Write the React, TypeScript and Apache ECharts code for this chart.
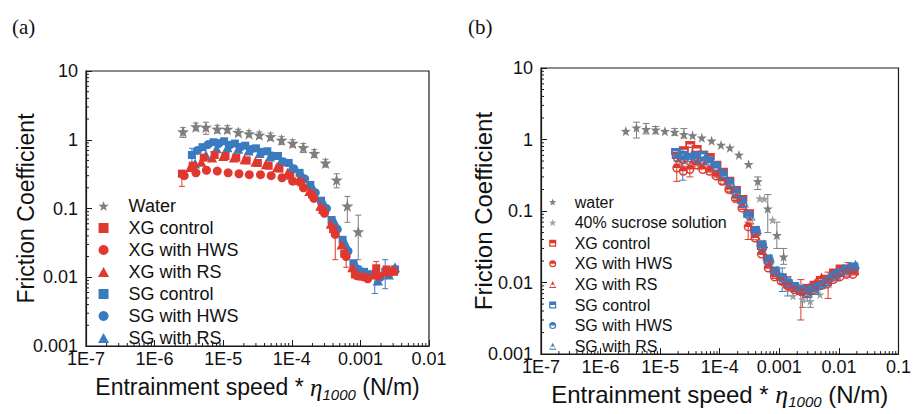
import React, { useEffect, useRef } from 'react';
import * as echarts from 'echarts';

const RED = '#e0382f';
const BLUE = '#3a7bc0';
const GRAY = '#7e7e7e';
const LGRAY = '#a0a0a0';
const FONT = "'Liberation Sans', Arial, sans-serif";
const SERIF = "'Liberation Serif', 'DejaVu Serif', serif";
const AXIS_COLOR = '#1a1a1a';

const STAR = 'path://M0,-10L2.35,-3.24L9.51,-3.09L3.8,1.24L5.88,8.09L0,4L-5.88,8.09L-3.8,1.24L-9.51,-3.09L-2.35,-3.24Z';
const SQUARE = 'path://M-1,-1L1,-1L1,1L-1,1Z';
const TRI = 'path://M0,-1L1,0.8L-1,0.8Z';
const HALF_SQ = 'path://M-1,-1L1,-1L1,1L-1,1ZM-0.65,0L-0.65,0.65L0.65,0.65L0.65,0Z';
const HALF_CI = 'path://M-1,0A1,1,0,0,1,1,0A1,1,0,0,1,-1,0ZM-0.68,0A0.68,0.68,0,0,0,0.68,0Z';
const HALF_TR = 'path://M0,-1L1,1L-1,1ZM-0.42,0.12L-0.7,0.74L0.7,0.74L0.42,0.12Z';

// ---------- Panel (a) ----------
const legendA = ['Water', 'XG control', 'XG with HWS', 'XG with RS', 'SG control', 'SG with HWS', 'SG with RS'];

const waterA: [number, number][] = [
  [2.6e-6, 1.31], [4.0e-6, 1.55], [5.6e-6, 1.52], [8.2e-6, 1.43], [1.15e-5, 1.42],
  [1.66e-5, 1.28], [2.38e-5, 1.22], [3.36e-5, 1.17], [4.9e-5, 1.11], [7.1e-5, 0.99],
  [1.03e-4, 0.89], [1.47e-4, 0.77], [2.13e-4, 0.635], [3.1e-4, 0.46], [4.5e-4, 0.26],
  [6.45e-4, 0.109], [9.3e-4, 0.046],
];
const xgControlA: [number, number][] = [
  [2.5e-6, 0.32], [3.6e-6, 0.42], [5.2e-6, 0.55], [7.5e-6, 0.6], [1.08e-5, 0.58],
  [1.55e-5, 0.55], [2.2e-5, 0.5], [3.2e-5, 0.46], [4.6e-5, 0.42], [6.6e-5, 0.38],
  [9.5e-5, 0.3], [1.37e-4, 0.24], [1.97e-4, 0.16], [2.8e-4, 0.095], [4.0e-4, 0.05],
  [5.8e-4, 0.022], [8.3e-4, 0.011], [1.2e-3, 0.01], [1.7e-3, 0.0135], [2.4e-3, 0.013], [3.1e-3, 0.012],
];
const xgHwsA: [number, number][] = [
  [2.7e-6, 0.3], [4.0e-6, 0.33], [5.7e-6, 0.36], [8.2e-6, 0.35], [1.18e-5, 0.33],
  [1.7e-5, 0.32], [2.4e-5, 0.31], [3.5e-5, 0.31], [5.0e-5, 0.3], [7.2e-5, 0.28],
  [1.03e-4, 0.25], [1.48e-4, 0.2], [2.1e-4, 0.14], [3.0e-4, 0.085], [4.3e-4, 0.042],
  [6.2e-4, 0.02], [8.9e-4, 0.0105], [1.28e-3, 0.0095], [1.84e-3, 0.0105], [2.6e-3, 0.012],
];
const xgRsA: [number, number][] = [
  [3.3e-6, 0.4], [4.8e-6, 0.48], [6.9e-6, 0.55], [1.0e-5, 0.58], [1.43e-5, 0.55],
  [2.05e-5, 0.52], [2.95e-5, 0.48], [4.2e-5, 0.44], [6.1e-5, 0.4], [8.7e-5, 0.33],
  [1.25e-4, 0.26], [1.8e-4, 0.18], [2.6e-4, 0.11], [3.7e-4, 0.06], [5.3e-4, 0.03],
  [7.6e-4, 0.014], [1.1e-3, 0.0105], [1.57e-3, 0.011], [2.25e-3, 0.012], [3.0e-3, 0.013],
];
const sgControlA: [number, number][] = [
  [3.5e-6, 0.6], [5.0e-6, 0.78], [7.2e-6, 0.92], [1.03e-5, 0.95], [1.48e-5, 0.88],
  [2.1e-5, 0.82], [3.0e-5, 0.75], [4.4e-5, 0.68], [6.3e-5, 0.58], [9.0e-5, 0.46],
  [1.3e-4, 0.33], [1.86e-4, 0.22], [2.67e-4, 0.13], [3.8e-4, 0.068], [5.5e-4, 0.035],
  [7.9e-4, 0.016], [1.13e-3, 0.012], [1.62e-3, 0.011], [2.3e-3, 0.012], [3.2e-3, 0.013],
];
const sgHwsA: [number, number][] = [
  [4.2e-6, 0.7], [6.0e-6, 0.85], [8.6e-6, 0.88], [1.23e-5, 0.83], [1.77e-5, 0.78],
  [2.5e-5, 0.72], [3.6e-5, 0.66], [5.2e-5, 0.58], [7.5e-5, 0.48], [1.07e-4, 0.38],
  [1.54e-4, 0.27], [2.2e-4, 0.17], [3.2e-4, 0.1], [4.6e-4, 0.05], [6.6e-4, 0.024],
  [9.4e-4, 0.013], [1.35e-3, 0.011], [1.94e-3, 0.01], [2.8e-3, 0.012],
];
const sgRsA: [number, number][] = [
  [3.9e-6, 0.45], [5.6e-6, 0.6], [8.0e-6, 0.75], [1.15e-5, 0.78], [1.65e-5, 0.74],
  [2.35e-5, 0.7], [3.4e-5, 0.64], [4.8e-5, 0.57], [7.0e-5, 0.5], [1.0e-4, 0.4],
  [1.43e-4, 0.3], [2.05e-4, 0.2], [2.95e-4, 0.12], [4.2e-4, 0.065], [6.0e-4, 0.032],
  [8.7e-4, 0.015], [1.25e-3, 0.011], [1.8e-3, 0.009], [2.6e-3, 0.011], [3.2e-3, 0.014],
];
// error bars [x, low, high]
const waterAErr: [number, number, number][] = [
  [2.6e-6, 1.08, 1.5], [4.0e-6, 1.35, 1.75], [5.6e-6, 1.2, 1.8], [8.2e-6, 1.25, 1.62],
  [1.15e-5, 1.25, 1.6], [1.66e-5, 1.15, 1.42], [2.38e-5, 1.1, 1.35], [3.36e-5, 1.05, 1.3],
  [4.9e-5, 0.98, 1.25], [7.1e-5, 0.85, 1.12], [1.03e-4, 0.78, 1.0], [1.47e-4, 0.65, 0.88],
  [2.13e-4, 0.55, 0.72], [3.1e-4, 0.4, 0.52], [4.5e-4, 0.2, 0.32], [6.45e-4, 0.063, 0.15],
  [9.3e-4, 0.018, 0.08],
];
const redAErr: [number, number, number][] = [
  [2.5e-6, 0.21, 0.36], [4.3e-4, 0.018, 0.05], [6.2e-4, 0.014, 0.027], [1.7e-3, 0.0078, 0.017],
];
const blueAErr: [number, number, number][] = [
  [3.5e-6, 0.45, 0.75], [1.62e-3, 0.0058, 0.013], [2.3e-3, 0.0068, 0.018],
];

// ---------- Panel (b) ----------
const legendB = ['water', '40% sucrose solution', 'XG control', 'XG with HWS', 'XG with RS', 'SG control', 'SG with HWS', 'SG with RS'];

const waterB: [number, number][] = [
  [2.65e-6, 1.31], [4.0e-6, 1.46], [5.8e-6, 1.39], [8.4e-6, 1.37], [1.2e-5, 1.31],
  [1.75e-5, 1.27], [2.5e-5, 1.18], [3.5e-5, 1.14], [5.0e-5, 1.06], [7.3e-5, 0.96],
  [1.05e-4, 0.84], [1.48e-4, 0.77], [2.1e-4, 0.61], [3.05e-4, 0.45], [4.35e-4, 0.26],
  [6.4e-4, 0.108], [9.1e-4, 0.046], [1.18e-3, 0.023],
];
const sucroseB: [number, number][] = [
  [2.2e-5, 0.5], [3.2e-5, 0.45], [4.6e-5, 0.42], [6.6e-5, 0.38], [9.5e-5, 0.3],
  [1.37e-4, 0.22], [1.97e-4, 0.15], [2.8e-4, 0.09], [4.7e-4, 0.15], [5.6e-4, 0.148],
  [7.7e-4, 0.075], [8.3e-4, 0.013], [1.2e-3, 0.009], [1.7e-3, 0.0065], [2.45e-3, 0.0058],
  [3.3e-3, 0.0055], [4.8e-3, 0.0068], [6.9e-3, 0.0095], [1.0e-2, 0.012], [1.45e-2, 0.014],
];
const xgControlB: [number, number][] = [
  [1.9e-5, 0.6], [2.5e-5, 0.72], [3.2e-5, 0.85], [4.1e-5, 0.75], [5.3e-5, 0.62],
  [6.8e-5, 0.58], [8.8e-5, 0.45], [1.13e-4, 0.36], [1.45e-4, 0.27], [1.87e-4, 0.2],
  [2.4e-4, 0.15], [3.1e-4, 0.095], [4.0e-4, 0.05], [5.1e-4, 0.032], [6.6e-4, 0.02],
  [8.5e-4, 0.014], [1.1e-3, 0.012], [1.4e-3, 0.0095], [1.8e-3, 0.0085], [2.3e-3, 0.008],
  [3.0e-3, 0.0085], [3.9e-3, 0.0095], [5.0e-3, 0.011], [6.4e-3, 0.0115], [8.3e-3, 0.014],
  [1.07e-2, 0.016], [1.37e-2, 0.015], [1.77e-2, 0.014],
];
const xgHwsB: [number, number][] = [
  [1.9e-5, 0.4], [2.45e-5, 0.36], [3.15e-5, 0.38], [4.05e-5, 0.44], [5.2e-5, 0.38],
  [6.7e-5, 0.36], [8.6e-5, 0.31], [1.1e-4, 0.26], [1.42e-4, 0.2], [1.83e-4, 0.15],
  [2.35e-4, 0.11], [3.0e-4, 0.06], [3.9e-4, 0.042], [5.0e-4, 0.025], [6.5e-4, 0.016],
  [8.3e-4, 0.012], [1.07e-3, 0.0105], [1.38e-3, 0.009], [1.77e-3, 0.008], [2.28e-3, 0.0075],
  [2.9e-3, 0.0072], [3.8e-3, 0.008], [4.9e-3, 0.009], [6.3e-3, 0.0095], [8.1e-3, 0.011],
  [1.04e-2, 0.012], [1.34e-2, 0.013], [1.72e-2, 0.013],
];
const xgRsB: [number, number][] = [
  [2.0e-5, 0.5], [2.6e-5, 0.48], [3.35e-5, 0.47], [4.3e-5, 0.5], [5.5e-5, 0.45],
  [7.1e-5, 0.4], [9.1e-5, 0.34], [1.17e-4, 0.27], [1.5e-4, 0.21], [1.95e-4, 0.16],
  [2.5e-4, 0.12], [3.2e-4, 0.075], [4.1e-4, 0.045], [5.3e-4, 0.028], [6.8e-4, 0.018],
  [8.8e-4, 0.013], [1.13e-3, 0.011], [1.45e-3, 0.0095], [1.87e-3, 0.0085], [2.4e-3, 0.008],
  [3.1e-3, 0.0085], [4.0e-3, 0.01], [5.1e-3, 0.012], [6.6e-3, 0.011], [8.5e-3, 0.012],
  [1.1e-2, 0.014], [1.42e-2, 0.016], [1.83e-2, 0.015],
];
const sgControlB: [number, number][] = [
  [1.85e-5, 0.68], [2.4e-5, 0.62], [3.1e-5, 0.58], [4.0e-5, 0.6], [5.1e-5, 0.62],
  [6.6e-5, 0.52], [8.5e-5, 0.44], [1.1e-4, 0.34], [1.41e-4, 0.26], [1.82e-4, 0.19],
  [2.35e-4, 0.14], [3.0e-4, 0.09], [3.9e-4, 0.055], [5.0e-4, 0.035], [6.4e-4, 0.022],
  [8.3e-4, 0.015], [1.07e-3, 0.012], [1.38e-3, 0.01], [1.78e-3, 0.009], [2.3e-3, 0.0075],
  [2.95e-3, 0.0068], [3.8e-3, 0.0075], [4.9e-3, 0.009], [6.3e-3, 0.01], [8.2e-3, 0.012],
  [1.05e-2, 0.014], [1.36e-2, 0.016], [1.75e-2, 0.017],
];
const sgHwsB: [number, number][] = [
  [1.95e-5, 0.55], [2.5e-5, 0.52], [3.25e-5, 0.55], [4.2e-5, 0.53], [5.4e-5, 0.5],
  [6.9e-5, 0.47], [8.9e-5, 0.4], [1.15e-4, 0.31], [1.48e-4, 0.24], [1.9e-4, 0.18],
  [2.45e-4, 0.125], [3.15e-4, 0.085], [4.05e-4, 0.05], [5.2e-4, 0.03], [6.7e-4, 0.019],
  [8.7e-4, 0.014], [1.12e-3, 0.0115], [1.44e-3, 0.0095], [1.85e-3, 0.0088], [2.4e-3, 0.008],
  [3.1e-3, 0.0078], [4.0e-3, 0.0085], [5.1e-3, 0.0095], [6.6e-3, 0.011], [8.5e-3, 0.013],
  [1.1e-2, 0.014], [1.42e-2, 0.015], [1.83e-2, 0.016],
];
const sgRsB: [number, number][] = [
  [2.05e-5, 0.62], [2.65e-5, 0.6], [3.4e-5, 0.62], [4.4e-5, 0.58], [5.65e-5, 0.55],
  [7.3e-5, 0.5], [9.4e-5, 0.42], [1.21e-4, 0.33], [1.56e-4, 0.25], [2.0e-4, 0.18],
  [2.6e-4, 0.13], [3.35e-4, 0.085], [4.3e-4, 0.055], [5.5e-4, 0.035], [7.1e-4, 0.022],
  [9.2e-4, 0.015], [1.18e-3, 0.012], [1.52e-3, 0.0105], [1.96e-3, 0.009], [2.5e-3, 0.0085],
  [3.25e-3, 0.0085], [4.2e-3, 0.009], [5.4e-3, 0.01], [7.0e-3, 0.012], [9.0e-3, 0.013],
  [1.16e-2, 0.015], [1.5e-2, 0.017], [1.9e-2, 0.018],
];
const grayBErr: [number, number, number][] = [
  [4.0e-6, 1.05, 1.75], [5.8e-6, 1.2, 1.68], [8.4e-6, 1.2, 1.52], [1.75e-5, 1.15, 1.42],
  [2.5e-5, 1.05, 1.42], [4.35e-4, 0.2, 0.3], [6.4e-4, 0.05, 0.17], [9.1e-4, 0.03, 0.07],
  [1.18e-3, 0.018, 0.03], [2.45e-3, 0.0045, 0.007], [3.3e-3, 0.0045, 0.0068],
];
const redBErr: [number, number, number][] = [
  [1.9e-5, 0.26, 0.5], [3.15e-5, 0.3, 0.45], [3.0e-4, 0.04, 0.07], [1.4e-3, 0.0076, 0.012],
  [2.3e-3, 0.003, 0.011], [6.6e-3, 0.006, 0.014], [1.42e-2, 0.012, 0.019],
];
const blueBErr: [number, number, number][] = [
  [2.4e-5, 0.27, 0.75], [1.12e-3, 0.0075, 0.016], [1.38e-3, 0.0065, 0.012], [2.95e-3, 0.0055, 0.0085],
];

// ---------- helpers ----------
const minorValues = (eLo: number, eHi: number) => {
  const out: number[] = [];
  for (let e = eLo; e < eHi; e++) for (let m = 2; m <= 9; m++) out.push(m * Math.pow(10, e));
  return out;
};

const xLabel = (v: number) => {
  const e = Math.round(Math.log10(v));
  return e <= -4 ? '1E' + e : Math.pow(10, e).toFixed(-e);
};
const yLabel = (v: number) => {
  const e = Math.round(Math.log10(v));
  return e >= 0 ? String(Math.round(Math.pow(10, e))) : Math.pow(10, e).toFixed(-e);
};

function errSeries(data: [number, number, number][], color: string, idx: number, cap: number) {
  return {
    type: 'custom',
    xAxisIndex: idx,
    yAxisIndex: idx,
    silent: true,
    z: 1,
    encode: { x: 0, y: [1, 2] },
    data,
    renderItem: (_p: any, api: any) => {
      const x = api.value(0);
      const a = api.coord([x, api.value(1)]);
      const b = api.coord([x, api.value(2)]);
      const h = cap / 2;
      const st = { stroke: color, lineWidth: 1 };
      return {
        type: 'group',
        children: [
          { type: 'line', shape: { x1: a[0], y1: a[1], x2: b[0], y2: b[1] }, style: st },
          { type: 'line', shape: { x1: a[0] - h, y1: a[1], x2: a[0] + h, y2: a[1] }, style: st },
          { type: 'line', shape: { x1: b[0] - h, y1: b[1], x2: b[0] + h, y2: b[1] }, style: st },
        ],
      };
    },
  };
}

function minorTickSeries(vals: number[], idx: number, dir: 'x' | 'y', anchor: number) {
  return {
    type: 'custom',
    xAxisIndex: idx,
    yAxisIndex: idx,
    silent: true,
    z: 10,
    data: vals.map((v) => (dir === 'x' ? [v, anchor] : [anchor, v])),
    renderItem: (_p: any, api: any) => {
      const p = api.coord([api.value(0), api.value(1)]);
      const shape = dir === 'x'
        ? { x1: p[0], y1: p[1], x2: p[0], y2: p[1] - 3 }
        : { x1: p[0], y1: p[1], x2: p[0] + 3, y2: p[1] };
      return { type: 'line', shape, style: { stroke: AXIS_COLOR, lineWidth: 1 } };
    },
  };
}

function scatter(name: string, data: [number, number][], idx: number, symbol: string, size: any, color: string, z = 3) {
  return {
    type: 'scatter',
    name,
    data,
    xAxisIndex: idx,
    yAxisIndex: idx,
    symbol,
    symbolSize: size,
    itemStyle: { color, opacity: 1 },
    z,
  };
}

const xAxisName = '{t|Entrainment speed * }{eta|η}{sub|1000}{t| (N/m)}';
const axisNameRich = (fs: number) => ({
  t: { fontSize: fs, fontFamily: FONT, color: '#111', lineHeight: 30 },
  eta: { fontSize: fs + 2, fontFamily: SERIF, fontStyle: 'italic', color: '#111', lineHeight: 30 },
  sub: { fontSize: 15, fontFamily: FONT, fontStyle: 'italic', color: '#111', verticalAlign: 'bottom', lineHeight: 17 },
});

function makeXAxis(idx: number, max: number, gap: number, fs: number) {
  return {
    type: 'log',
    logBase: 10,
    gridIndex: idx,
    min: 1e-7,
    max,
    splitNumber: 6,
    axisLine: { show: true, lineStyle: { color: AXIS_COLOR, width: 1.2 } },
    axisTick: { show: true, inside: true, length: 6, lineStyle: { color: AXIS_COLOR, width: 1 } },
    splitLine: { show: false },
    axisLabel: { formatter: xLabel, fontSize: 18, fontFamily: FONT, color: '#111', margin: 4 },
    name: xAxisName,
    nameLocation: 'middle',
    nameGap: gap,
    nameTextStyle: { rich: axisNameRich(fs) },
  };
}

function makeYAxis(idx: number, gap: number, fs: number) {
  return {
    type: 'log',
    logBase: 10,
    gridIndex: idx,
    min: 1e-3,
    max: 10,
    splitNumber: 4,
    axisLine: { show: true, lineStyle: { color: AXIS_COLOR, width: 1.2 } },
    axisTick: { show: true, inside: true, length: 6, lineStyle: { color: AXIS_COLOR, width: 1 } },
    splitLine: { show: false },
    axisLabel: { formatter: yLabel, fontSize: 18, fontFamily: FONT, color: '#111', margin: 8 },
    name: 'Friction Coefficient',
    nameLocation: 'middle',
    nameGap: gap,
    nameMoveOverlap: false,
    nameTextStyle: { fontSize: fs, fontFamily: FONT, color: '#111' },
  };
}

export default function App() {
  const ref = useRef<HTMLDivElement>(null);
  useEffect(() => {
    if (!ref.current) return;
    const chart = echarts.init(ref.current, undefined, { renderer: 'svg' });
    const option: any = {
      animation: false,
      backgroundColor: '#ffffff',
      grid: [
        { left: 86, top: 71, width: 343, height: 275, show: true, borderColor: AXIS_COLOR, borderWidth: 1.2, backgroundColor: 'transparent' },
        { left: 541, top: 68, width: 361, height: 289, show: true, borderColor: AXIS_COLOR, borderWidth: 1.2, backgroundColor: 'transparent' },
      ],
      xAxis: [makeXAxis(0, 1e-2, 26, 23), makeXAxis(1, 1e-1, 24, 24)],
      yAxis: [makeYAxis(0, 49, 23), makeYAxis(1, 46, 24)],
      legend: [
        {
          orient: 'vertical',
          left: 93,
          top: 192,
          itemWidth: 40,
          itemHeight: 10,
          itemGap: 4,
          selectedMode: false,
          textStyle: { fontSize: 18, fontFamily: FONT, color: '#111', lineHeight: 18 },
          data: [
            { name: legendA[0], icon: STAR },
            { name: legendA[1], icon: SQUARE },
            { name: legendA[2], icon: 'circle' },
            { name: legendA[3], icon: TRI },
            { name: legendA[4], icon: SQUARE },
            { name: legendA[5], icon: 'circle' },
            { name: legendA[6], icon: TRI },
          ],
        },
        {
          orient: 'vertical',
          left: 544,
          top: 189,
          itemWidth: 34,
          itemHeight: 7,
          itemGap: 4.6,
          selectedMode: false,
          textStyle: { fontSize: 16, fontFamily: FONT, color: '#111', lineHeight: 16 },
          data: [
            { name: legendB[0], icon: STAR },
            { name: legendB[1], icon: STAR },
            { name: legendB[2], icon: HALF_SQ },
            { name: legendB[3], icon: HALF_CI },
            { name: legendB[4], icon: HALF_TR },
            { name: legendB[5], icon: HALF_SQ },
            { name: legendB[6], icon: HALF_CI },
            { name: legendB[7], icon: HALF_TR },
          ],
        },
      ],
      graphic: [
        { type: 'text', left: 12, top: 16, style: { text: '(a)', font: `21px ${SERIF}`, fill: '#111' } },
        { type: 'text', left: 468, top: 16, style: { text: '(b)', font: `21px ${SERIF}`, fill: '#111' } },
      ],
      series: [
        // panel a
        errSeries(waterAErr, GRAY, 0, 6),
        errSeries(redAErr, RED, 0, 6),
        errSeries(blueAErr, BLUE, 0, 6),
        scatter(legendA[4], sgControlA, 0, 'rect', 8, BLUE),
        scatter(legendA[5], sgHwsA, 0, 'circle', 9, BLUE),
        scatter(legendA[6], sgRsA, 0, 'triangle', 10, BLUE),
        scatter(legendA[1], xgControlA, 0, 'rect', 8, RED, 4),
        scatter(legendA[2], xgHwsA, 0, 'circle', 9, RED, 4),
        scatter(legendA[3], xgRsA, 0, 'triangle', 10, RED, 4),
        scatter(legendA[0], waterA, 0, STAR, 12, GRAY, 5),
        minorTickSeries(minorValues(-7, -2), 0, 'x', 1e-3),
        minorTickSeries(minorValues(-3, 1), 0, 'y', 1e-7),
        // panel b
        errSeries(grayBErr, GRAY, 1, 7),
        errSeries(redBErr, RED, 1, 7),
        errSeries(blueBErr, BLUE, 1, 7),
        scatter(legendB[1], sucroseB, 1, STAR, 9, LGRAY, 2),
        scatter(legendB[2], xgControlB, 1, HALF_SQ, [10, 7], RED),
        scatter(legendB[5], sgControlB, 1, HALF_SQ, [10, 7], BLUE),
        scatter(legendB[3], xgHwsB, 1, HALF_CI, 9, RED),
        scatter(legendB[6], sgHwsB, 1, HALF_CI, 9, BLUE),
        scatter(legendB[4], xgRsB, 1, HALF_TR, 9, RED),
        scatter(legendB[7], sgRsB, 1, HALF_TR, 9, BLUE),
        scatter(legendB[0], waterB, 1, STAR, 10, GRAY, 5),
        minorTickSeries(minorValues(-7, -1), 1, 'x', 1e-3),
        minorTickSeries(minorValues(-3, 1), 1, 'y', 1e-7),
      ],
    };
    chart.setOption(option);
    return () => chart.dispose();
  }, []);
  return <div ref={ref} style={{ position: 'fixed', left: 0, top: 0, width: 914, height: 414, background: '#fff' }} />;
}
